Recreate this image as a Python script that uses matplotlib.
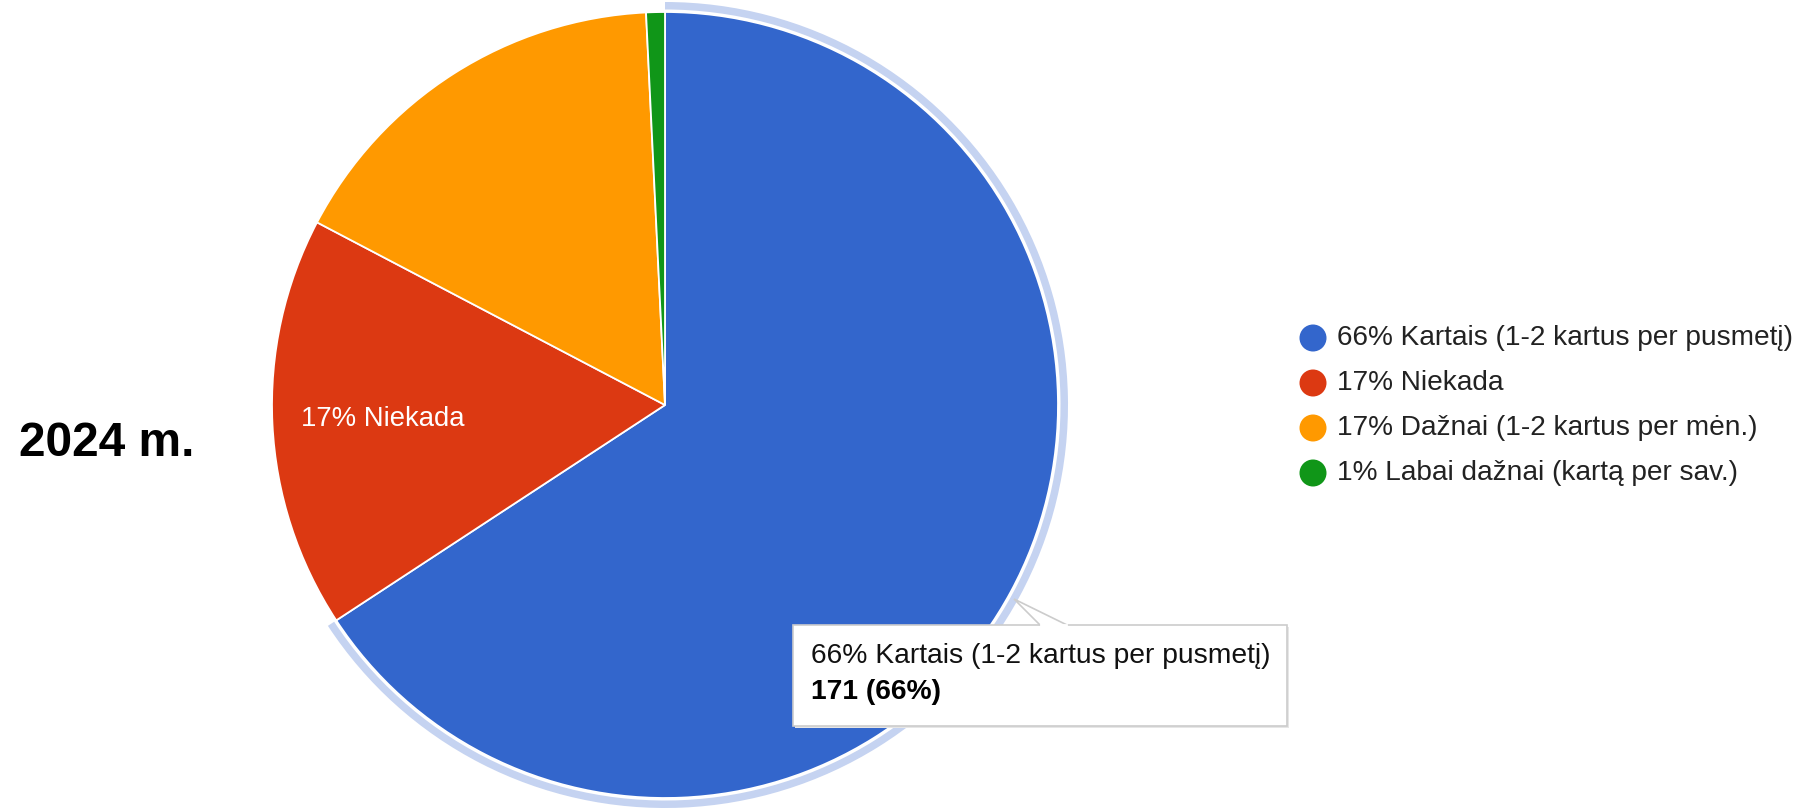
import matplotlib
matplotlib.use("Agg")
import matplotlib.pyplot as plt
from matplotlib.patches import Wedge, Rectangle, Polygon, Circle

plt.rcParams['font.family'] = ['Liberation Sans', 'DejaVu Sans']

# Survey answers (2024)
labels = ['Kartais (1-2 kartus per pusmetį)', 'Niekada',
          'Dažnai (1-2 kartus per mėn.)', 'Labai dažnai (kartą per sav.)']
counts = [171, 44, 43, 2]
colors = ['#3366cc', '#dc3912', '#ff9900', '#109618']
year_label = '2024 m.'

W, H = 1813, 808
total = sum(counts)
pcts = [round(100 * c / total) for c in counts]

fig = plt.figure(figsize=(W / 100, H / 100), dpi=100)
ax = fig.add_axes([0, 0, 1, 1])

cx, cy, R = 665, 405, 393
wedges, _ = ax.pie(counts, colors=colors, center=(cx, cy), radius=R,
                   startangle=-90, counterclock=True,
                   wedgeprops=dict(edgecolor='white', linewidth=1.3))
ax.set_xlim(0, W)
ax.set_ylim(H, 0)
ax.set_aspect('auto')
ax.axis('off')

# highlight ring round the hovered (blue) slice
w0 = wedges[0]
ax.add_patch(Wedge((cx, cy), R + 10, w0.theta1, w0.theta2, width=7.5,
                   facecolor='#c5d3f1', edgecolor='none'))

# in-slice label
ax.text(301, 419, f'{pcts[1]}% {labels[1]}', color='white', fontsize=19.8,
        va='center', ha='left')

# year
ax.text(19, 443, year_label, fontsize=34.5, fontweight='bold', va='center', ha='left')

# legend
for i, (lab, col, p) in enumerate(zip(labels, colors, pcts)):
    y = 338 + 45 * i
    ax.add_patch(Circle((1313, y), 13.5, facecolor=col, edgecolor='none'))
    ax.text(1337, y, f'{p}% {lab}', fontsize=20.2, color='#222222',
            va='center', ha='left')

# tooltip
bx0, by0, bx1, by1 = 793, 625, 1287, 726
ax.add_patch(Rectangle((bx0 + 2, by0 + 2), bx1 - bx0, by1 - by0,
                       facecolor='#e6e6e6', edgecolor='none', zorder=4))
ax.add_patch(Rectangle((bx0, by0), bx1 - bx0, by1 - by0,
                       facecolor='white', edgecolor='#cccccc', linewidth=1.2, zorder=5))
ax.add_patch(Polygon([(1040, by0), (1014, 599), (1067, by0)], closed=False,
                     facecolor='white', edgecolor='#cccccc', linewidth=1.2, zorder=6))
ax.plot([1041, 1066], [by0, by0], color='white', linewidth=2, zorder=7)
ax.text(811, 656, f'{pcts[0]}% {labels[0]}', fontsize=20.3, color='#111111',
        va='center', ha='left', zorder=8)
ax.text(811, 692, f'{counts[0]} ({pcts[0]}%)', fontsize=20.3, fontweight='bold',
        color='black', va='center', ha='left', zorder=8)

fig.savefig('out.png', dpi=100, facecolor='white')
